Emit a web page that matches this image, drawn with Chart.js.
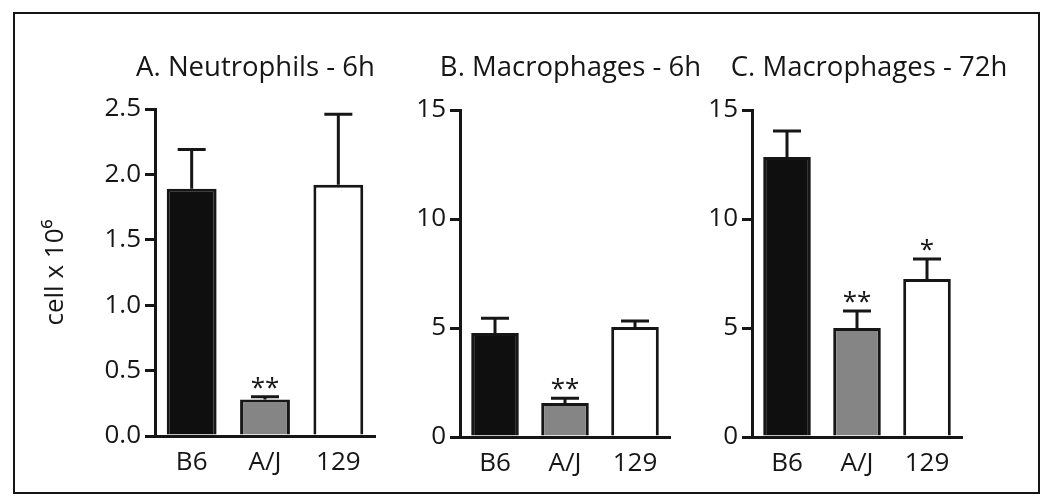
<!DOCTYPE html>
<html><head><meta charset="utf-8">
<script src="https://cdn.jsdelivr.net/npm/chart.js@4.4.1/dist/chart.umd.min.js"></script>
<style>
html,body{margin:0;padding:0;background:#fff;width:1050px;height:504px;overflow:hidden}
#frame{position:absolute;left:13px;top:12px;width:1027px;height:482px;box-sizing:border-box;border:2px solid #151515}
canvas{position:absolute;top:0}
</style></head><body>
<div id="frame"></div>
<canvas id="ca" width="355" height="504" style="left:30px"></canvas>
<canvas id="cb" width="330" height="504" style="left:390px"></canvas>
<canvas id="cc" width="345" height="504" style="left:682px"></canvas>
<script>
// ---- data ----
const categories = ['B6', 'A/J', '129'];
const panelTitles = ['A. Neutrophils - 6h', 'B. Macrophages - 6h', 'C. Macrophages - 72h'];
const neutrophils6h = [1.89, 0.28, 1.92];
const neutrophils6hErr = [0.30, 0.02, 0.54];
const neutrophils6hStars = ['', '**', ''];
const macrophages6h = [4.77, 1.56, 5.05];
const macrophages6hErr = [0.68, 0.22, 0.27];
const macrophages6hStars = ['', '**', ''];
const macrophages72h = [12.84, 5.0, 7.25];
const macrophages72hErr = [1.2, 0.78, 0.92];
const macrophages72hStars = ['', '**', '*'];
const yTicksA = [0, 0.5, 1.0, 1.5, 2.0, 2.5];
const yTicksBC = [0, 5, 10, 15];
const yAxisTitle = 'cell x 10⁶';

const FONT = "'Open Sans', 'DejaVu Sans', sans-serif";
const INK = '#161616';
const barFills = ['#0f0f0f', '#858585', '#ffffff'];

const decor = {
  id: 'decor',
  afterDatasetsDraw(chart, args, o) {
    const ctx = chart.ctx, meta = chart.getDatasetMeta(0), ys = chart.scales.y;
    ctx.save();
    ctx.strokeStyle = INK; ctx.lineWidth = 3; ctx.lineCap = 'butt';
    o.values.forEach((v, i) => {
      const x = meta.data[i].x;
      const yBar = ys.getPixelForValue(v);
      const yTop = ys.getPixelForValue(v + o.errors[i]);
      ctx.beginPath();
      ctx.moveTo(x, yBar); ctx.lineTo(x, yTop);
      ctx.moveTo(x - 14, yTop); ctx.lineTo(x + 14, yTop);
      ctx.stroke();
      if (o.stars[i]) {
        ctx.fillStyle = INK; ctx.font = '26px ' + FONT;
        ctx.textAlign = 'center'; ctx.textBaseline = 'alphabetic';
        ctx.fillText(o.stars[i], x, yTop - 1);
      }
    });
    ctx.fillStyle = INK; ctx.font = '27.5px ' + FONT;
    ctx.textAlign = 'center'; ctx.textBaseline = 'alphabetic';
    ctx.fillText(o.title, o.titleX, o.titleY);
    ctx.restore();
  }
};

function makePanel(id, values, errors, stars, title, ticks, fmt, yw, top, xh, padR, titleX, showYTitle) {
  new Chart(document.getElementById(id), {
    type: 'bar',
    data: {
      labels: categories,
      datasets: [{
        data: values,
        backgroundColor: barFills,
        borderColor: INK,
        borderWidth: 3,
        borderSkipped: 'bottom',
        barPercentage: 0.68,
        categoryPercentage: 1.0
      }]
    },
    options: {
      responsive: false,
      animation: false,
      layout: { padding: { top: top, right: padR, bottom: 0, left: 0 } },
      plugins: {
        legend: { display: false },
        tooltip: { enabled: false },
        decor: { values: values, errors: errors, stars: stars, title: title, titleX: titleX, titleY: 76 }
      },
      scales: {
        x: {
          offset: true,
          grid: { display: false, drawTicks: false },
          border: { display: true, color: INK, width: 3 },
          ticks: { color: INK, font: { family: FONT, size: 26 }, padding: 11 },
          afterFit(s) { s.height = xh; }
        },
        y: {
          min: ticks[0], max: ticks[ticks.length - 1],
          afterBuildTicks(s) { s.ticks = ticks.map(v => ({ value: v })); },
          ticks: { color: INK, font: { family: FONT, size: 26 }, padding: 4, callback: fmt },
          grid: { drawOnChartArea: false, drawTicks: true, tickLength: 10, color: INK, lineWidth: 3 },
          border: { display: true, color: INK, width: 3 },
          title: { display: showYTitle, text: yAxisTitle, color: INK, font: { family: FONT, size: 26 }, padding: { top: 10, bottom: 0 } },
          afterFit(s) { s.width = yw; }
        }
      }
    },
    plugins: [decor]
  });
}

makePanel('ca', neutrophils6h, neutrophils6hErr, neutrophils6hStars, panelTitles[0], yTicksA, v => Number(v).toFixed(1), 125, 109, 68, 10, 225.5, true);
makePanel('cb', macrophages6h, macrophages6hErr, macrophages6hStars, panelTitles[1], yTicksBC, v => String(v), 70, 110, 67, 50, 180.5, false);
makePanel('cc', macrophages72h, macrophages72hErr, macrophages72hStars, panelTitles[2], yTicksBC, v => String(v), 70, 110, 67, 65, 187, false);
</script>
</body></html>
